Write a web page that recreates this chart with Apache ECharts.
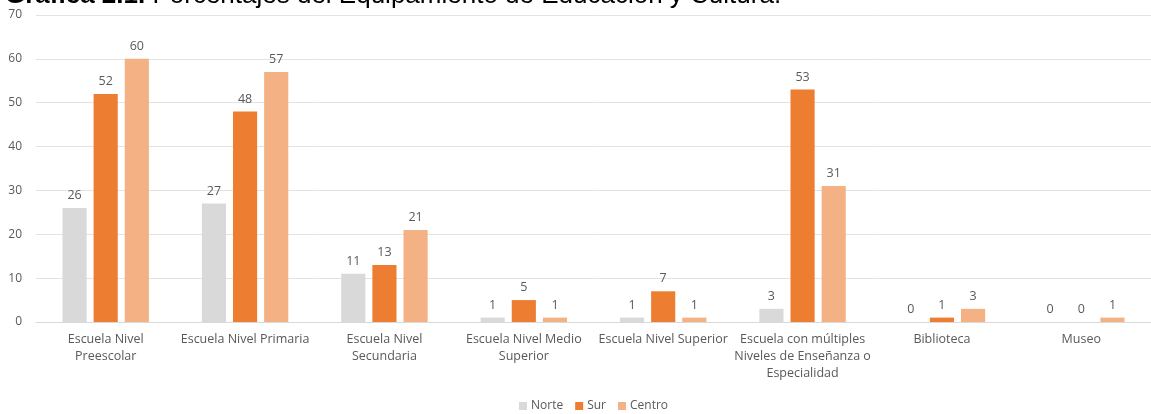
<!DOCTYPE html>
<html>
<head>
<meta charset="utf-8">
<script src="https://cdn.jsdelivr.net/npm/echarts@6/dist/echarts.min.js"></script>
<style>
  html, body { margin: 0; padding: 0; background: #fff; }
  #pic0 { width: 1151px; height: 414px; }
</style>
</head>
<body>
<div id="pic0"></div>
<script>
// datos
var categorias = [
  'Escuela Nivel\nPreescolar',
  'Escuela Nivel Primaria',
  'Escuela Nivel\nSecundaria',
  'Escuela Nivel Medio\nSuperior',
  'Escuela Nivel Superior',
  'Escuela con múltiples\nNiveles de Enseñanza o\nEspecialidad',
  'Biblioteca',
  'Museo'
];
var norte  = [26, 27, 11, 1, 1, 3, 0, 0];
var sur    = [52, 48, 13, 5, 7, 53, 1, 0];
var centro = [60, 57, 21, 1, 1, 31, 3, 1];
var ticksY = [0, 10, 20, 30, 40, 50, 60, 70];

var fuente = 'Open Sans';
var gris = '#595959';

var myChart = echarts.init(document.getElementById('pic0'));

function serie(nombre, datos, color) {
  return {
    name: nombre,
    type: 'bar',
    data: datos,
    barGap: '29%',
    barCategoryGap: '38%',
    itemStyle: { color: color },
    label: {
      show: true,
      position: 'top',
      distance: 6,
      color: gris,
      fontFamily: fuente,
      fontSize: 12.5
    }
  };
}

var option = {
  animation: false,
  title: {
    text: '{b|Gráfica 2.1.} Porcentajes del Equipamiento de Educación y Cultura.',
    left: 0,
    top: -22,
    textStyle: {
      fontFamily: 'Liberation Sans',
      fontSize: 26,
      fontWeight: 'normal',
      color: '#000',
      rich: {
        b: { fontFamily: 'Liberation Sans', fontSize: 26, fontWeight: 'bold', color: '#000' }
      }
    }
  },
  color: ['#d9d9d9', '#ed7d31', '#f4b183'],
  legend: {
    data: ['Norte', 'Sur', 'Centro'],
    bottom: -3,
    left: 514,
    itemWidth: 8,
    itemHeight: 8,
    itemGap: 12,
    icon: 'rect',
    textStyle: { color: gris, fontFamily: fuente, fontSize: 12, padding: [0, 0, 0, -1] }
  },
  grid: {
    left: 36,
    right: 0,
    top: 15,
    bottom: 92
  },
  xAxis: {
    type: 'category',
    data: categorias,
    axisTick: { show: false },
    axisLine: { lineStyle: { color: '#d9d9d9', width: 1 } },
    axisLabel: {
      interval: 0,
      color: gris,
      fontFamily: fuente,
      fontSize: 12.5,
      lineHeight: 17,
      margin: 9
    }
  },
  yAxis: {
    type: 'value',
    min: ticksY[0],
    max: ticksY[ticksY.length - 1],
    interval: 10,
    axisLine: { show: false },
    axisTick: { show: false },
    splitLine: { lineStyle: { color: '#e3e3e3' } },
    axisLabel: { color: gris, fontFamily: fuente, fontSize: 12, margin: 14 }
  },
  series: [
    serie('Norte', norte, '#d9d9d9'),
    serie('Sur', sur, '#ed7d31'),
    serie('Centro', centro, '#f4b183')
  ]
};

myChart.setOption(option);
</script>
</body>
</html>
